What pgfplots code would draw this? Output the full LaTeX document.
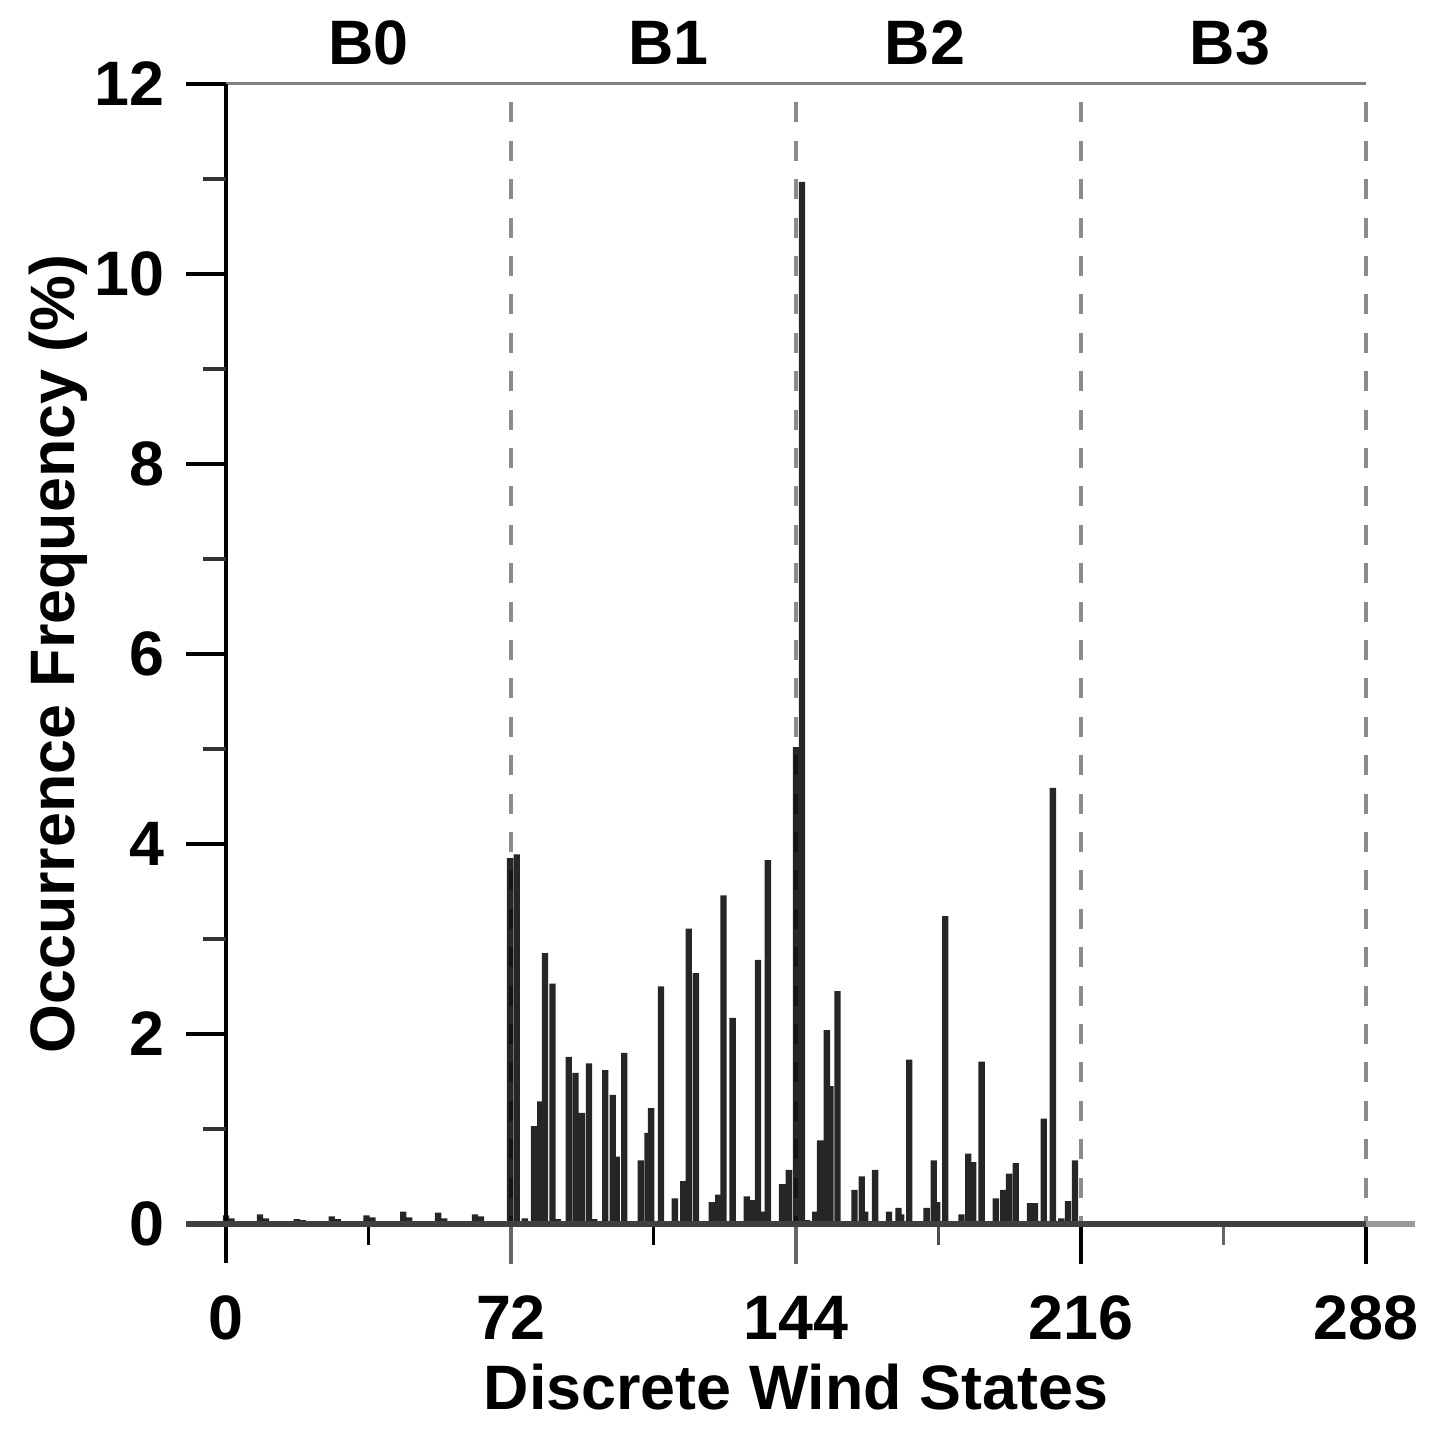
\documentclass[border=0pt]{standalone}
\usepackage{fontspec}
\setmainfont{Liberation Sans}
\usepackage{pgfplots}
\pgfplotsset{compat=1.18}
\begin{document}
\begin{tikzpicture}[font=\fontsize{15.7}{18}\selectfont\bfseries]
\begin{axis}[
  scale only axis, width=285pt, height=285pt,
  xmin=0, xmax=288, ymin=0, ymax=12,
  clip=false,
  axis line style={draw=none},
  xtick={0,72,144,216,288},
  ytick={0,2,4,6,8,10,12},
  major tick length=0pt, minor tick length=0pt,
  tick style={draw=none},
  /pgf/number format/assume math mode=true,
  xticklabel style={anchor=base, inner sep=0pt, yshift=-29pt, font=\fontsize{15.7}{18}\selectfont\bfseries},
  yticklabel style={anchor=east, inner sep=0pt, xshift=-15.25pt, font=\fontsize{15.7}{18}\selectfont\bfseries},
]
% dashed separators (behind bars)
\draw[black!45, line width=0.8pt, dash pattern=on 5pt off 4.6pt, dash phase=5pt] (axis cs:72,12) -- (axis cs:72,0);
\draw[black!45, line width=0.8pt, dash pattern=on 5pt off 4.6pt, dash phase=5pt] (axis cs:144,12) -- (axis cs:144,0);
\draw[black!45, line width=0.8pt, dash pattern=on 5pt off 4.6pt, dash phase=5pt] (axis cs:216,12) -- (axis cs:216,0);
\draw[black!45, line width=0.8pt, dash pattern=on 5pt off 4.6pt, dash phase=5pt] (axis cs:288,12) -- (axis cs:288,0);
\addplot[ybar, bar width=1.6, fill=black, fill opacity=0.85, draw=none] coordinates {
(0,0.09) (1.4,0.06) (4,0.02) (6,0.02)
(8.6,0.10) (10.1,0.06) (13,0.02) (15,0.02)
(17.9,0.05) (19.4,0.04) (22,0.02) (24,0.02)
(26.7,0.08) (28.2,0.05) (31,0.02) (33,0.02)
(35.5,0.09) (37,0.07) (40,0.02) (42,0.02)
(44.8,0.13) (46.3,0.07) (49,0.02) (51,0.02)
(53.6,0.12) (55.1,0.06) (58,0.02) (60,0.02)
(62.9,0.10) (64.4,0.08) (67,0.02) (69,0.02)
(71.75,3.85) (73.44,3.89) (75.5,0.06)
(77.8,1.03) (79.4,1.29) (80.6,2.85) (82.5,2.53) (83.8,0.05)
(86.6,1.76) (88.3,1.59) (89.9,1.17) (91.7,1.69) (93,0.05)
(95.8,1.62) (97.7,1.36) (98.7,0.71) (100.6,1.80) (102,0.03)
(104.8,0.67) (106.5,0.96) (107.4,1.22) (109.9,2.50) (111.5,0.03)
(113.4,0.27) (115.5,0.45) (116.9,3.11) (118.7,2.64) (120.2,0.03)
(122.7,0.23) (124.4,0.31) (125.7,3.46) (128.0,2.17) (129.4,0.03)
(131.6,0.29) (133.3,0.25) (134.4,2.78) (135.7,0.13) (136.9,3.83) (138.5,0.03)
(140.5,0.42) (142.2,0.57) (144.0,5.02) (145.5,10.97) (146.8,0.04)
(148.9,0.13) (150.1,0.88) (151.8,2.04) (152.7,1.45) (154.5,2.45) (156,0.03)
(158.8,0.36) (160.6,0.50) (161.5,0.13) (164.0,0.57) (165.5,0.02)
(167.5,0.13) (169.9,0.17) (170.6,0.10) (172.6,1.73) (174,0.02)
(177.0,0.17) (178.8,0.67) (179.7,0.23) (181.7,3.24) (183,0.02)
(185.8,0.10) (187.5,0.74) (188.8,0.65) (190.9,1.71) (192.3,0.02)
(194.5,0.27) (196.4,0.36) (197.8,0.53) (199.5,0.64) (201,0.02)
(203.1,0.22) (204.4,0.22) (206.6,1.11) (208.9,4.59)
(211,0.06) (212.7,0.24) (214.5,0.67)
};
% top line
\draw[black!50, line width=0.75pt] (axis cs:0,12) -- (axis cs:288,12);
% y axis
\draw[black, line width=0.8pt] (axis cs:0,12) -- ([yshift=-9.75pt]axis cs:0,0);
% y ticks
\draw[black, line width=0.8pt] (axis cs:0,2) -- ++(-10pt,0);
\draw[black, line width=0.8pt] (axis cs:0,4) -- ++(-10pt,0);
\draw[black, line width=0.8pt] (axis cs:0,6) -- ++(-10pt,0);
\draw[black, line width=0.8pt] (axis cs:0,8) -- ++(-10pt,0);
\draw[black, line width=0.8pt] (axis cs:0,10) -- ++(-10pt,0);
\draw[black, line width=0.8pt] (axis cs:0,12) -- ++(-10pt,0);
\draw[black!80, line width=0.8pt] (axis cs:0,1) -- ++(-5.75pt,0);
\draw[black!80, line width=0.8pt] (axis cs:0,3) -- ++(-5.75pt,0);
\draw[black!80, line width=0.8pt] (axis cs:0,5) -- ++(-5.75pt,0);
\draw[black!80, line width=0.8pt] (axis cs:0,7) -- ++(-5.75pt,0);
\draw[black!80, line width=0.8pt] (axis cs:0,9) -- ++(-5.75pt,0);
\draw[black!80, line width=0.8pt] (axis cs:0,11) -- ++(-5.75pt,0);
% x ticks
\draw[black!60, line width=0.8pt] (axis cs:72,0) -- ++(0,-10pt);
\draw[black!60, line width=0.8pt] (axis cs:144,0) -- ++(0,-10pt);
\draw[black, line width=0.8pt] (axis cs:216,0) -- ++(0,-10pt);
\draw[black, line width=0.8pt] (axis cs:288,0) -- ++(0,-10pt);
\draw[black, line width=0.8pt] (axis cs:36,0) -- ++(0,-5.25pt);
\draw[black, line width=0.8pt] (axis cs:108,0) -- ++(0,-5.25pt);
\draw[black!70, line width=0.8pt] (axis cs:180,0) -- ++(0,-5.25pt);
\draw[black!60, line width=0.8pt] (axis cs:252,0) -- ++(0,-5.25pt);
% x axis line
\draw[black!75, line width=1.3pt] (axis cs:-10.1,0) -- (axis cs:288,0);
\draw[black!40, line width=1.3pt] (axis cs:288,0) -- (axis cs:300.4,0);
% block labels
\node[anchor=base, yshift=4.75pt] at (axis cs:36,12) {B0};
\node[anchor=base, yshift=4.75pt] at (axis cs:111.7,12) {B1};
\node[anchor=base, yshift=4.75pt] at (axis cs:176.6,12) {B2};
\node[anchor=base, yshift=4.75pt] at (axis cs:253.6,12) {B3};
% axis labels
\node[anchor=base, inner sep=0pt, yshift=-46.5pt] at (axis cs:144,0) {Discrete Wind States};
\node[anchor=base, inner sep=0pt, rotate=90] at ([xshift=-37.75pt]axis cs:0,6) {Occurrence Frequency (\%)};
\end{axis}
\pgfresetboundingbox
\path[use as bounding box] (-56.5pt,-52.25pt) rectangle (303.5pt,306pt);
\end{tikzpicture}
\end{document}
